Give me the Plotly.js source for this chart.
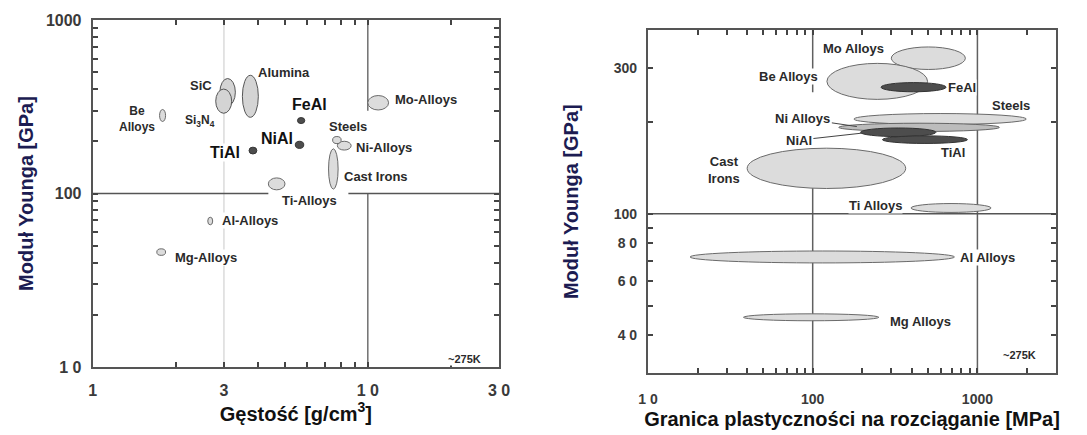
<!DOCTYPE html>
<html><head><meta charset="utf-8">
<script src="https://cdn.plot.ly/plotly-3.0.1.min.js"></script>
<style>html,body{margin:0;padding:0;background:#fff}#chart{width:1087px;height:435px}</style>
</head><body><div id="chart"></div>
<script>
// ---------- Left panel: Young's modulus vs density ----------
const densMaterials = ['Be Alloys','SiC','Si3N4','Alumina','TiAl','NiAl','FeAl','Mo-Alloys','Ni-Alloys','Steels','Cast Irons','Ti-Alloys','Al-Alloys','Mg-Alloys'];
const densClass     = ['alloy','ceramic','ceramic','ceramic','intermetallic','intermetallic','intermetallic','alloy','alloy','alloy','alloy','alloy','alloy','alloy'];
const densityMin    = [1.75, 2.90, 2.80, 3.50, 3.70, 5.45, 5.55, 10.0, 7.75, 7.45, 7.20, 4.35, 2.62, 1.71];
const densityMax    = [1.84, 3.30, 3.20, 4.00, 3.95, 5.85, 5.90, 11.9, 8.70, 8.00, 7.80, 5.00, 2.73, 1.84];
const densModMin    = [260, 320, 290, 275, 169, 182, 253, 303, 178, 194, 106, 105, 66, 44];
const densModMax    = [305, 460, 400, 480, 185, 200, 274, 367, 200, 213, 181, 123, 73, 48];

const densTickVals  = [1, 3, 10, 30];
const densTickText  = ['1', '3', '1 0', '3 0'];
const densMinorVals = [2, 4, 5, 6, 7, 8, 9, 20];
const modTickValsL  = [10, 100, 1000];
const modTickTextL  = ['1 0', '100', '1000'];
const modMinorValsL = [20, 30, 40, 50, 60, 70, 80, 90, 200, 300, 400, 500, 600, 700, 800, 900];

// ---------- Right panel: Young's modulus vs yield strength ----------
const ysMaterials = ['Mo Alloys','Be Alloys','FeAl','Steels','Ni Alloys','NiAl','TiAl','Cast Irons','Ti Alloys','Al Alloys','Mg Alloys'];
const ysClass     = ['alloy','alloy','intermetallic','alloy','nickel','intermetallic','intermetallic','alloy','alloy','alloy','alloy'];
const yieldMin    = [300, 122, 260, 178, 144, 195, 265, 40, 395, 18, 38];
const yieldMax    = [845, 498, 645, 1980, 1360, 560, 870, 367, 1210, 725, 252];
const ysModMin    = [297, 237, 251, 196, 186, 179, 170, 121, 101, 69, 44.6];
const ysModMax    = [352, 311, 269, 213, 198, 191, 180, 164, 108, 75.5, 47];

const ysTickVals   = [10, 100, 1000];
const ysTickText   = ['1 0', '100', '1000'];
const ysMinorVals  = [20, 30, 40, 50, 60, 70, 80, 90, 200, 300, 400, 500, 600, 700, 800, 900, 2000];
const modTickValsR = [40, 60, 80, 100, 300];
const modTickTextR = ['4 0', '6 0', '8 0', '100', '300'];
const modMinorValsR = [50, 70, 90, 200];

// ---------- styling helpers ----------
const L = Math.log10;
const classStyle = {
  alloy:         {fill:'#dcdcdc', line:'#6a6a6a'},
  ceramic:       {fill:'#d4d4d4', line:'#555555'},
  intermetallic: {fill:'#4d4d4d', line:'#333333'},
  nickel:        {fill:'#bcbcbc', line:'#666666'}
};
// shapes on log axes take data values in this Plotly version
function ellipses(xr, yr, x0s, x1s, y0s, y1s, classes) {
  return x0s.map((_, i) => ({
    type:'circle', xref:xr, yref:yr, layer:'above',
    x0:x0s[i], x1:x1s[i], y0:y0s[i], y1:y1s[i],
    fillcolor:classStyle[classes[i]].fill,
    line:{color:classStyle[classes[i]].line, width:1}
  }));
}
function centres(a, b) { return a.map((v, i) => Math.sqrt(v * b[i])); }

const traces = [
  {type:'scatter', mode:'markers', xaxis:'x', yaxis:'y', name:'Gęstość',
   x:centres(densityMin, densityMax), y:centres(densModMin, densModMax),
   text:densMaterials, hoverinfo:'text', marker:{size:8, opacity:0}, showlegend:false},
  {type:'scatter', mode:'markers', xaxis:'x2', yaxis:'y2', name:'Granica plastyczności',
   x:centres(yieldMin, yieldMax), y:centres(ysModMin, ysModMax),
   text:ysMaterials, hoverinfo:'text', marker:{size:8, opacity:0}, showlegend:false}
];

// reference / grid lines (decorative)
function vline(xr, yr, x, ya, yb, color, w) {
  return {type:'line', xref:xr, yref:yr, layer:'below', x0:x, x1:x, y0:ya, y1:yb, line:{color:color, width:w}};
}
function hline(xr, yr, y, xa, xb, color, w) {
  return {type:'line', xref:xr, yref:yr, layer:'below', x0:xa, x1:xb, y0:y, y1:y, line:{color:color, width:w}};
}
const gridShapes = [
  vline('x','y', 3, 10, 1000, '#c8c8c8', 1),
  vline('x','y', 10, 300, 1000, '#707070', 1.5),
  vline('x','y', 10, 10, 100, '#707070', 1.5),
  hline('x','y', 100, 1, 4.35, '#555555', 1.5),
  hline('x','y', 100, 8.5, 30, '#555555', 1.5),
  vline('x2','y2', 100, 250, 400, '#606060', 1.5),
  vline('x2','y2', 100, 30, 125, '#606060', 1.5),
  vline('x2','y2', 1000, 30, 400, '#606060', 1.5),
  hline('x2','y2', 100, 10, 3000, '#555555', 1.5)
];

const shapes = gridShapes
  .concat(ellipses('x','y', densityMin, densityMax, densModMin, densModMax, densClass))
  .concat(ellipses('x2','y2', yieldMin, yieldMax, ysModMin, ysModMax, ysClass));

// ---------- labels ----------
const FONT = 'Liberation Sans, Arial, sans-serif';
function lab(xr, yr, x, y, text, size, extra) {
  return Object.assign({xref:xr, yref:yr, x:x, y:y, text:text, showarrow:false,
    font:{family:FONT, size:size, color:'#2a2a2a', weight:700},
    bgcolor:'rgba(255,255,255,1)', borderpad:0}, extra || {});
}
const bigFont = {family:FONT, size:16, color:'#111', weight:700};
const annotations = [
  lab('x','y', 0.1605, 2.432, 'Be<br>Alloys', 12),
  lab('x','y', 0.395, 2.6225, 'SiC', 13),
  lab('x','y', 0.389, 2.420, 'Si<sub>3</sub>N<sub>4</sub>', 12),
  lab('x','y', 0.6967, 2.696, 'Alumina', 13),
  lab('x','y', 0.7873, 2.5127, 'FeAl', 16, {font:bigFont}),
  lab('x','y', 0.6714, 2.316, 'NiAl', 16, {font:bigFont}),
  lab('x','y', 0.4793, 2.237, 'TiAl', 16, {font:bigFont}),
  lab('x','y', 1.210, 2.540, 'Mo-Alloys', 13),
  lab('x','y', 0.9297, 2.387, 'Steels', 13),
  lab('x','y', 1.059, 2.2624, 'Ni-Alloys', 13),
  lab('x','y', 1.029, 2.0965, 'Cast Irons', 13),
  lab('x','y', 0.7873, 1.9618, 'Ti-Alloys', 13),
  lab('x','y', 0.570, 1.842, 'Al-Alloys', 13),
  lab('x','y', 0.413, 1.630, 'Mg-Alloys', 13),
  lab('x','y', 1.352, 1.045, '~275K', 11),

  lab('x2','y2', 2.250, 2.5414, 'Mo Alloys', 13),
  lab('x2','y2', 1.8537, 2.4488, 'Be Alloys', 13),
  lab('x2','y2', 2.9067, 2.4142, 'FeAl', 13),
  lab('x2','y2', 3.2055, 2.3532, 'Steels', 13),
  {xref:'x2', yref:'y2', x:2.268, y:2.2857, text:'Ni Alloys', showarrow:true, arrowhead:0, arrowwidth:1, arrowcolor:'#444',
   ax:-54, ay:-8, font:{family:FONT, size:13, color:'#2a2a2a', weight:700}},
  {xref:'x2', yref:'y2', x:2.2988, y:2.2642, text:'NiAl', showarrow:true, arrowhead:0, arrowwidth:1, arrowcolor:'#444',
   ax:-63, ay:7, font:{family:FONT, size:13, color:'#2a2a2a', weight:700}},
  lab('x2','y2', 2.849, 2.2009, 'TiAl', 13),
  lab('x2','y2', 1.4634, 2.1445, 'Cast<br>Irons', 13),
  lab('x2','y2', 2.382, 2.027, 'Ti Alloys', 13),
  lab('x2','y2', 3.063, 1.8565, 'Al Alloys', 13),
  lab('x2','y2', 2.657, 1.6464, 'Mg Alloys', 13),
  lab('x2','y2', 3.256, 1.5356, '~275K', 11)
];

function axisBase(minorVals) {
  return {type:'log', showgrid:false, zeroline:false, showline:true, linecolor:'#555', linewidth:2,
    mirror:'ticks', ticks:'inside', ticklen:5, tickwidth:1.5, tickcolor:'#444', tickmode:'array',
    minor:{tickmode:'array', tickvals:minorVals, ticks:'inside', ticklen:5, tickwidth:1.5, tickcolor:'#444', showgrid:false}};
}
const tickFontL = {family:FONT, size:16, color:'#3a3a3a', weight:700};
const tickFontR = {family:FONT, size:14, color:'#3a3a3a', weight:700};
const yTitleFont = {family:FONT, size:20, color:'#1c1c52', weight:700};
const xTitleFont = {family:FONT, size:20, color:'#111', weight:700};

const layout = {
  width:1087, height:435, margin:{l:0, r:0, t:0, b:0},
  paper_bgcolor:'#fff', plot_bgcolor:'#fff', showlegend:false,
  xaxis: Object.assign(axisBase(densMinorVals), {domain:[0.0853, 0.4591], range:[0, L(30)],
    tickvals:densTickVals, ticktext:densTickText, tickfont:tickFontL, ticklabelstandoff:8,
    anchor:'y', title:{text:'Gęstość [g/cm<sup>3</sup>]', font:xTitleFont, standoff:8}}),
  yaxis: Object.assign(axisBase(modMinorValsL), {domain:[0.1563, 0.954], range:[1, 3],
    tickvals:modTickValsL, ticktext:modTickTextL, tickfont:tickFontL, ticklabelstandoff:6,
    anchor:'x', title:{text:'Moduł Younga [GPa]', font:yTitleFont, standoff:7}}),
  xaxis2: Object.assign(axisBase(ysMinorVals), {domain:[0.5961, 0.9715], range:[1, L(3000)],
    tickvals:ysTickVals, ticktext:ysTickText, tickfont:tickFontR, ticklabelstandoff:12,
    anchor:'y2', title:{text:'Granica plastyczności na rozciąganie [MPa]', font:xTitleFont, standoff:6}}),
  yaxis2: Object.assign(axisBase(modMinorValsR), {domain:[0.1418, 0.931], range:[L(30), L(400)],
    tickvals:modTickValsR, ticktext:modTickTextR, tickfont:tickFontR, ticklabelstandoff:6,
    anchor:'x2', title:{text:'Moduł Younga [GPa]', font:yTitleFont, standoff:30}}),
  shapes: shapes,
  annotations: annotations
};

Plotly.newPlot('chart', traces, layout, {displayModeBar:false});
</script>
</body></html>
